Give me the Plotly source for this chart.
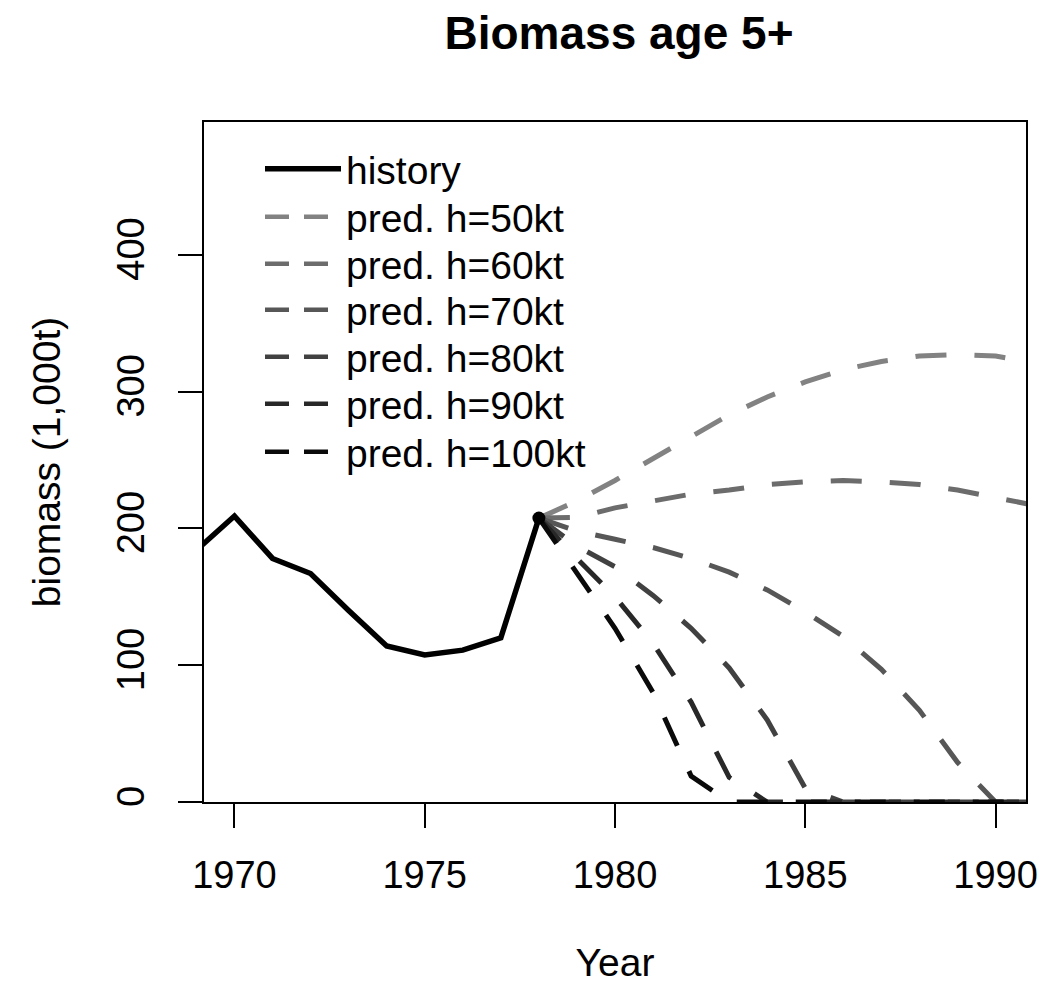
import plotly.graph_objects as go

# ---- data ----
hist_years = [1969, 1970, 1971, 1972, 1973, 1974, 1975, 1976, 1977, 1978]
hist_biomass = [184, 209, 178, 167, 140, 114, 107.5, 111, 120, 207.5]

pred_years = [1978, 1979, 1980, 1981, 1982, 1983, 1984, 1985, 1986, 1987, 1988, 1989, 1990, 1991]
pred_labels = ["pred. h=50kt", "pred. h=60kt", "pred. h=70kt", "pred. h=80kt", "pred. h=90kt", "pred. h=100kt"]
pred_h50 = [207.5, 220, 235, 251, 268, 283, 296, 307, 316, 322, 326, 327, 326, 321]
pred_h60 = [207.5, 208, 215, 220, 225, 228, 232, 234, 235, 234, 232, 228, 223, 217]
pred_h70 = [207.5, 198, 192, 186, 178, 168, 155, 139, 121, 97, 67, 29, 0, 0]
pred_h80 = [207.5, 187, 172, 151, 127, 98, 60, 10, 0, 0, 0, 0, 0, 0]
pred_h90 = [207.5, 178, 150, 116, 73, 18, 0, 0, 0, 0, 0, 0, 0, 0]
pred_h100 = [207.5, 168, 127, 80, 19, 0, 0, 0, 0, 0, 0, 0, 0, 0]
pred_series = [pred_h50, pred_h60, pred_h70, pred_h80, pred_h90, pred_h100]
pred_colors = ["#828282", "#6c6c6c", "#575757", "#414141", "#282828", "#0a0a0a"]

x_ticks = [1970, 1975, 1980, 1985, 1990]
y_ticks = [0, 100, 200, 300, 400]

FONT = "Liberation Sans, Arial, Helvetica, sans-serif"

# page is offset by the 8px body margin; plot area in figure coords
PL, PR, PT, PB = 196, 1018, 114, 794
PW, PH = PR - PL, PB - PT

fig = go.Figure()

# history line
fig.add_trace(go.Scatter(
    x=hist_years, y=hist_biomass, mode="lines", name="history",
    line=dict(color="black", width=5.5), showlegend=True, legend="legend",
))

# prediction lines (legend handled by proxies below)
for lab, vals, col in zip(pred_labels, pred_series, pred_colors):
    fig.add_trace(go.Scatter(
        x=pred_years, y=vals, mode="lines", name=lab,
        line=dict(color=col, width=5, dash="31px,28px"),
        showlegend=False,
    ))

# legend proxies with a dash pattern sized for the legend sample
for i, (lab, col) in enumerate(zip(pred_labels, pred_colors)):
    fig.add_trace(go.Scatter(
        x=[None], y=[None], mode="lines", name=lab,
        line=dict(color=col, width=4.5, dash="24px,15px"),
        showlegend=True, legend="legend%d" % (i + 2),
    ))

# end-of-history point
fig.add_trace(go.Scatter(
    x=[hist_years[-1]], y=[hist_biomass[-1]], mode="markers",
    marker=dict(color="black", size=13), showlegend=False,
))

axis_common = dict(
    showline=True, mirror=True, linecolor="black", linewidth=2,
    ticks="outside", ticklen=24, tickwidth=2, tickcolor="black",
    showgrid=False, zeroline=False, automargin=False,
    tickfont=dict(family=FONT, size=38, color="black"),
)

# one single-entry legend per row so rows can sit at the reference spacing
row_centers = [161, 209, 256, 302, 349, 396, 444]
legend_x = (252 - PL) / PW
legends = {}
for i, yc in enumerate(row_centers):
    key = "legend" if i == 0 else "legend%d" % (i + 1)
    legends[key] = dict(
        x=legend_x, y=(PB - yc) / PH, xanchor="left", yanchor="middle",
        bgcolor="rgba(0,0,0,0)", borderwidth=0,
        font=dict(family=FONT, size=39, color="black"),
        itemwidth=76,
    )

fig.update_layout(
    width=1059, height=984,
    margin=dict(l=PL, r=1059 - PR, t=PT, b=984 - PB, autoexpand=False),
    paper_bgcolor="white", plot_bgcolor="white",
    font=dict(family=FONT, color="black"),
    title=dict(
        text="<b>Biomass age 5+</b>",
        font=dict(family=FONT, size=46, color="black"),
        x=611 / 1059, xanchor="center",
        y=1, yanchor="top", yref="container",
        pad=dict(t=9, b=0, l=0, r=0),
    ),
    xaxis=dict(
        range=[1969.2, 1990.8], tickvals=x_ticks, ticktext=[str(v) for v in x_ticks],
        title=dict(text="Year", font=dict(family=FONT, size=39, color="black"), standoff=54),
        ticklabelstandoff=14,
        **axis_common,
    ),
    yaxis=dict(
        range=[0, 497], tickvals=y_ticks, ticktext=[str(v) for v in y_ticks],
        tickangle=-90,
        title=dict(text="biomass (1,000t)", font=dict(family=FONT, size=39, color="black"), standoff=37),
        ticklabelstandoff=19,
        **axis_common,
    ),
    **legends,
)

fig.write_html("out.html")
